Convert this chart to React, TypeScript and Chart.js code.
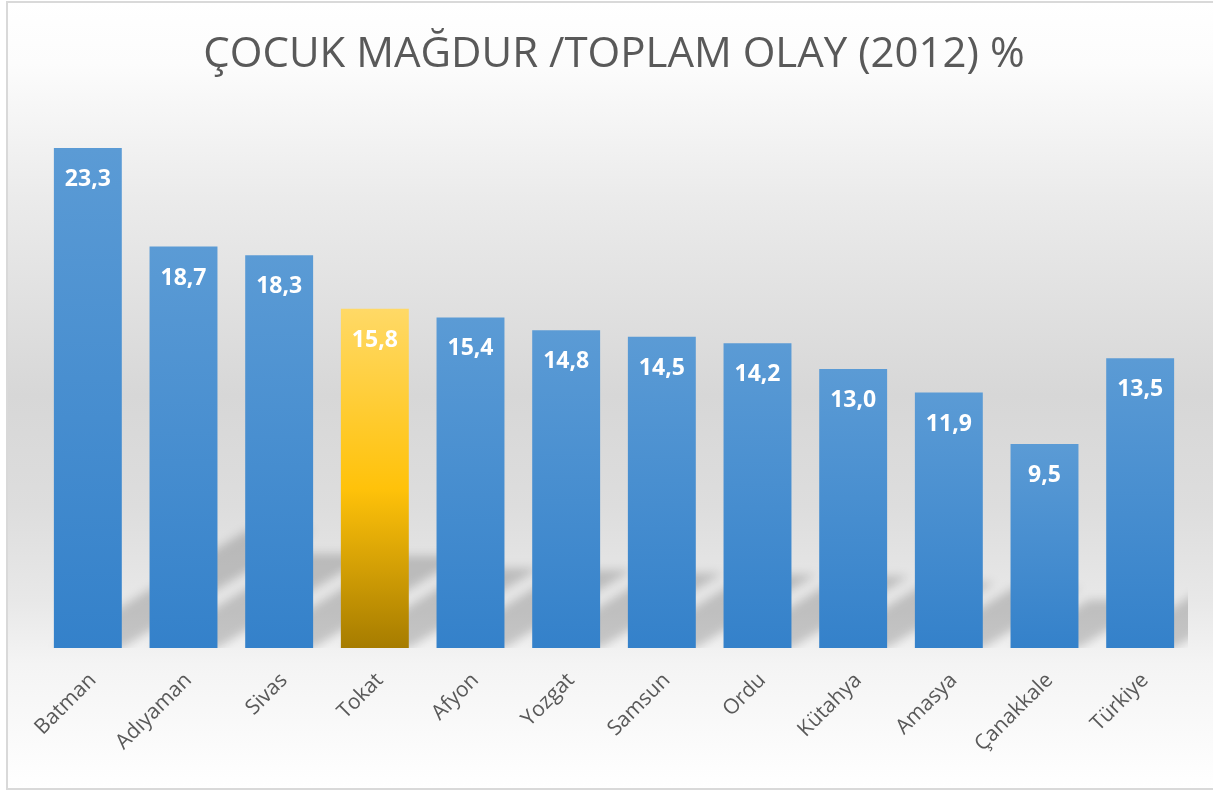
import React, { useEffect, useRef } from 'react';
import { Chart, registerables } from 'chart.js';

Chart.register(...registerables);

const TITLE = 'ÇOCUK MAĞDUR /TOPLAM OLAY (2012) %';
const categories = ['Batman', 'Adıyaman', 'Sivas', 'Tokat', 'Afyon', 'Yozgat', 'Samsun', 'Ordu', 'Kütahya', 'Amasya', 'Çanakkale', 'Türkiye'];
const values = [23.3, 18.7, 18.3, 15.8, 15.4, 14.8, 14.5, 14.2, 13.0, 11.9, 9.5, 13.5];
const highlightCategory = 'Tokat';
const yMin = 0;
const yMax = 25;

const FONT = "'Open Sans', 'DejaVu Sans', sans-serif";

export default function App() {
  const ref = useRef<HTMLCanvasElement>(null);

  useEffect(() => {
    const canvas = ref.current;
    if (!canvas) return;

    const bgPlugin = {
      id: 'bgFrame',
      beforeDraw(chart: any) {
        const { ctx, width, height } = chart;
        ctx.save();
        ctx.fillStyle = '#ffffff';
        ctx.fillRect(0, 0, width, height);
        const g = ctx.createLinearGradient(0, 0, 0, height);
        g.addColorStop(0, '#ffffff');
        g.addColorStop(0.08, '#fcfcfc');
        g.addColorStop(0.25, '#ebebeb');
        g.addColorStop(0.5, '#d7d7d7');
        g.addColorStop(0.64, '#dddddd');
        g.addColorStop(0.76, '#e8e8e8');
        g.addColorStop(0.82, '#f1f1f1');
        g.addColorStop(0.84, '#f4f4f4');
        g.addColorStop(1, '#ffffff');
        ctx.fillStyle = g;
        ctx.fillRect(7, 2, width - 7, height - 4);
        ctx.strokeStyle = '#d9d9d9';
        ctx.lineWidth = 2;
        ctx.strokeRect(7, 2, width + 4, height - 4);
        ctx.restore();
      },
    };

    const shadowPlugin = {
      id: 'floorShadow',
      beforeDatasetsDraw(chart: any) {
        const { ctx, chartArea } = chart;
        const meta = chart.getDatasetMeta(0);
        ctx.save();
        ctx.beginPath();
        ctx.rect(chartArea.left, chartArea.top, chartArea.right - chartArea.left, chartArea.bottom - chartArea.top);
        ctx.clip();
        ctx.filter = 'blur(5px)';
        ctx.fillStyle = 'rgba(0,0,0,0.18)';
        ctx.beginPath();
        meta.data.forEach((bar: any) => {
          const { x, y, base, width } = bar.getProps(['x', 'y', 'base', 'width'], true);
          const h = base - y;
          const dx = 0.385 * h;
          const dy = 0.235 * h;
          const l = x - width / 2;
          const r = x + width / 2;
          ctx.moveTo(l, base);
          ctx.lineTo(r, base);
          ctx.lineTo(r + dx, base - dy);
          ctx.lineTo(l + dx, base - dy);
          ctx.closePath();
        });
        ctx.fill();
        ctx.restore();
      },
    };

    const labelPlugin = {
      id: 'valueLabels',
      afterDatasetsDraw(chart: any) {
        const { ctx } = chart;
        const meta = chart.getDatasetMeta(0);
        ctx.save();
        ctx.fillStyle = '#ffffff';
        ctx.font = `bold 23px ${FONT}`;
        ctx.textAlign = 'center';
        ctx.textBaseline = 'alphabetic';
        meta.data.forEach((bar: any, i: number) => {
          const { x, y } = bar.getProps(['x', 'y'], true);
          const txt = values[i].toFixed(1).replace('.', ',');
          ctx.fillText(txt, x, y + 38);
        });
        ctx.restore();
      },
    };

    const chart = new Chart(canvas, {
      type: 'bar',
      data: {
        labels: categories,
        datasets: [
          {
            data: values,
            borderWidth: 0,
            barPercentage: 0.71,
            categoryPercentage: 1,
            backgroundColor: (c: any) => {
              const ch = c.chart;
              const { ctx, chartArea, scales } = ch;
              if (!chartArea || c.type !== 'data') return '#4a8fd0';
              const top = scales.y.getPixelForValue(values[c.dataIndex]);
              const base = scales.y.getPixelForValue(0);
              const g = ctx.createLinearGradient(0, top, 0, base);
              if (categories[c.dataIndex] === highlightCategory) {
                g.addColorStop(0, '#ffd966');
                g.addColorStop(0.53, '#ffc20a');
                g.addColorStop(1, '#a67c00');
              } else {
                g.addColorStop(0, '#5b9bd5');
                g.addColorStop(1, '#3481ca');
              }
              return g;
            },
          },
        ],
      },
      options: {
        responsive: false,
        animation: false,
        layout: { padding: { left: 40, right: 25, top: 0, bottom: 0 } },
        plugins: {
          legend: { display: false },
          tooltip: { enabled: false },
          title: {
            display: true,
            text: TITLE,
            color: '#595959',
            font: { family: FONT, size: 42, weight: 'normal', lineHeight: 1.2 },
            padding: { top: 30, bottom: 31 },
          },
        },
        scales: {
          x: {
            grid: { display: false, drawTicks: false },
            border: { display: false },
            ticks: {
              color: '#595959',
              font: { family: FONT, size: 21 },
              maxRotation: 45,
              minRotation: 45,
              autoSkip: false,
              padding: 20,
              labelOffset: 5,
            },
            afterFit: (s: any) => {
              s.height = 143;
            },
          },
          y: { display: false, min: yMin, max: yMax },
        },
      },
      plugins: [bgPlugin, shadowPlugin, labelPlugin],
    } as any);

    return () => chart.destroy();
  }, []);

  return (
    <div style={{ position: 'absolute', left: 0, top: 0, width: 1213, height: 791 }}>
      <canvas ref={ref} width={1213} height={791} />
    </div>
  );
}
